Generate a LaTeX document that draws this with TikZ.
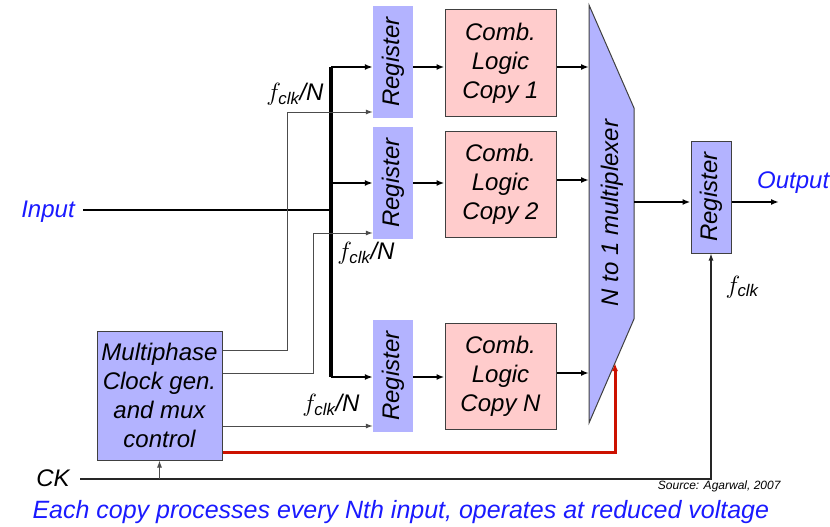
\documentclass[tikz,border=0pt]{standalone}
\usepackage{fontspec}
\setmainfont{Liberation Sans}
\usetikzlibrary{arrows.meta}
\definecolor{lav}{HTML}{B3B3FF}
\definecolor{pinkish}{HTML}{FFCCCC}
\definecolor{txtblue}{HTML}{1A1AFF}
\definecolor{selred}{HTML}{CC1100}
\begin{document}
\begin{tikzpicture}[
  x=1pt,y=-1pt,
  >={Latex[length=8pt,width=6pt]},
  every node/.style={font=\fontsize{24}{29}\selectfont\itshape},
  reg/.style={fill=lav,minimum width=40pt,minimum height=112pt,inner sep=0pt},
  comb/.style={fill=pinkish,draw=black!75,line width=1pt,minimum width=111pt,minimum height=106pt,align=center,inner sep=0pt},
  ctl/.style={fill=lav,draw=black!75,line width=1pt,minimum width=125pt,minimum height=129pt,align=center,inner sep=0pt},
  data/.style={line width=2.6pt},
  bus/.style={line width=4pt},
  clkline/.style={draw=black!70,line width=1pt,>={Latex[length=7pt,width=5pt]}}
]
  \useasboundingbox (0,0) rectangle (830,527);

  % first column of registers
  \node[reg] (r1) at (393,62) {\rotatebox{90}{Register}};
  \node[reg] (r2) at (393,183) {\rotatebox{90}{Register}};
  \node[reg] (r3) at (393,376) {\rotatebox{90}{Register}};

  % logic copies
  \node[comb] (c1) at (500.5,63) {Comb.\\Logic\\Copy 1};
  \node[comb] (c2) at (500.5,184) {Comb.\\Logic\\Copy 2};
  \node[comb] (c3) at (500.5,376.5) {Comb.\\Logic\\Copy N};

  % multiplexer
  \draw[fill=lav,draw=black!75,line width=1pt] (589,5) -- (634,108) -- (634,319) -- (589,423) -- cycle;
  \node[rotate=90] (mux) at (612,213) {N to 1 multiplexer};
  \coordinate (muxl) at (589,0);
  \coordinate (mo) at (634,202);
  \coordinate (sel) at (615,363);

  % output register
  \node[reg,draw=black!75,line width=1pt] (oreg) at (711,197) {\rotatebox{90}{Register}};
  \coordinate (out) at (779,202);
  \node[text=txtblue,anchor=west,inner sep=0pt] (outlbl) at (757,183) {Output};

  % clock generator
  \node[ctl] (clk) at (159.5,395.5) {Multiphase\\Clock gen.\\ and mux\\control};

  % input and bus
  \node[text=txtblue] (in) at (48,212) {Input};
  \coordinate (bt) at (331,67);
  \coordinate (bm) at (331,210);
  \coordinate (bb) at (331,377);
  \draw[data] ([xshift=5pt]in.east |- bm) -- (bm);
  \draw[bus] (bt) -- (bb);
  \draw[data,->] (bt) -- (bt -| r1.west);
  \draw[data,->] (bt |- r2.west) -- (r2.west);
  \draw[data,->] (bb) -- (bb -| r3.west);

  % register to logic to mux
  \draw[data,->] (r1.east |- bt) -- (c1.west |- bt);
  \draw[data,->] (r2.east) -- (c2.west |- r2.east);
  \draw[data,->] (r3.east |- bb) -- (c3.west |- bb);
  \draw[data,->] (c1.east |- bt) -- (muxl |- bt);
  \draw[data,->] ([yshift=4pt]c2.east) -- ([yshift=4pt]c2.east -| muxl);
  \draw[data,->] ([yshift=3.5pt]c3.east) -- ([yshift=3.5pt]c3.east -| muxl);
  \draw[data,->] (mo) -- (mo -| oreg.west);
  \draw[data,->] (oreg.east |- mo) -- (out);

  % clocks
  \coordinate (k1) at (287,112);
  \coordinate (k2) at (313,233);
  \draw[clkline,->] ([yshift=45.5pt]clk.east) -| (k1) -- ([yshift=-50pt]r1.west);
  \draw[clkline,->] ([yshift=22.5pt]clk.east) -| (k2) -- ([yshift=-50pt]r2.west);
  \draw[clkline,->] ([yshift=-30.5pt]clk.east) -- ([yshift=-50pt]r3.west);
  \node (f1) at (295,94) {$f_{\mathit{clk}}$/N};
  \node (f2) at (366,253) {$f_{\mathit{clk}}$/N};
  \node (f3) at (331,405) {$f_{\mathit{clk}}$/N};

  % select
  \draw[selred,line width=3pt,->] ([yshift=-56.5pt]clk.east) -| (sel);

  % CK
  \node (ck) at (53,478) {CK};
  \coordinate (ckl) at (80,479);
  \draw[black!85,line width=1.2pt,>={Latex[length=7pt,width=5pt]},->] (ckl) -| (oreg.south);
  \draw[black!70,line width=1pt,>={Latex[length=7pt,width=5pt]},->] (clk.south |- ckl) -- (clk.south);
  \node[anchor=west] (fk) at (722,287) {$f_{\mathit{clk}}$};

  % notes
  \node[font=\fontsize{12}{14}\selectfont\itshape,anchor=east] (src) at (784,486) {Source: Agarwal, 2007};
  \node[text=txtblue,anchor=west,font=\fontsize{25}{30}\selectfont\itshape] (note) at (29,512) {Each copy processes every Nth input, operates at reduced voltage};
\end{tikzpicture}
\end{document}
